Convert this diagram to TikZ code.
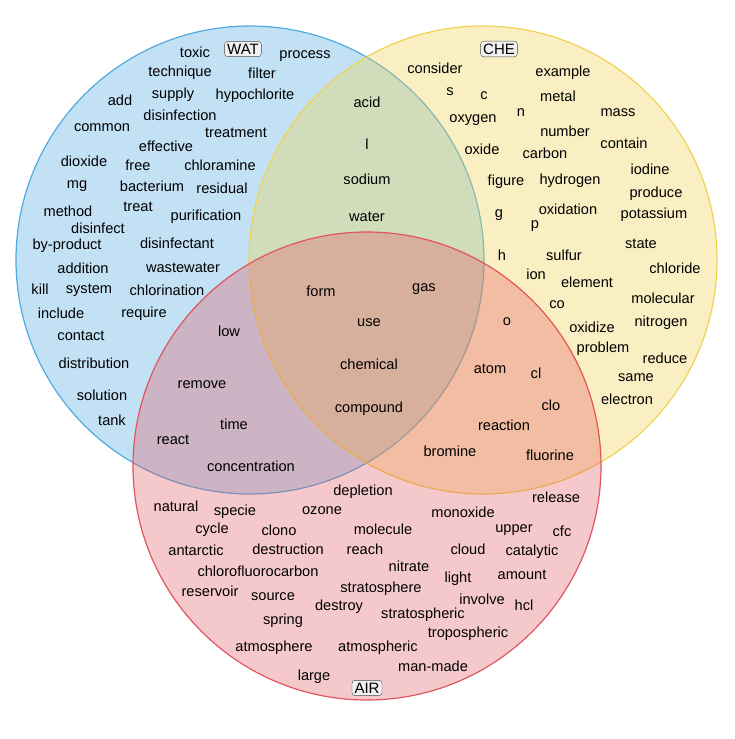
\documentclass[tikz,border=0pt]{standalone}
\usepackage{fontspec}
\setmainfont{Liberation Sans}
\usetikzlibrary{positioning}
\definecolor{watc}{RGB}{80,170,225}
\definecolor{chec}{RGB}{240,210,80}
\definecolor{airc}{RGB}{225,85,95}
\begin{document}
\begin{tikzpicture}[x=1pt,y=-1pt,
          wd/.style={font=\fontsize{14.6}{16}\selectfont,inner sep=0pt},
          tag/.style={draw=black!70,fill=black!6,rounded corners=3pt,
            font=\fontsize{15}{17}\selectfont,inner sep=2.5pt},
          set/.style={line width=1.2pt,fill opacity=0.35}
            ]
            \useasboundingbox (0,0) rectangle (735,739);
            \draw[set,draw=watc,fill=watc] (250,260) circle (234);
            \draw[set,draw=chec,fill=chec] (483,260) circle (234);
            \draw[set,draw=airc,fill=airc,fill opacity=0.32] (367,466) circle (234);
            \node[tag] (wat) at (243,49) {WAT};
            \node[tag] (che) at (499,49) {CHE};
            \node[tag] (air) at (367,688) {AIR};
            % words, by region
            \foreach \t/\x/\y [count=\i] in {
              toxic/195/52, process/305/56, technique/180/73, filter/262/73,
              add/120/100, supply/173/95, hypochlorite/255/96, disinfection/180/115,
              common/102/128, treatment/236/133, effective/166/146, dioxide/84/161,
              free/138/165, chloramine/220/165, mg/77/186, bacterium/152/186,
              residual/222/188, method/68/211, treat/138/207, disinfect/98/228,
              purification/206/217, by-product/67/246, disinfectant/177/243,
              addition/83/268, wastewater/183/268, kill/40/289, system/89/290,
              chlorination/167/290, include/61/313, require/144/314, contact/81/336,
              distribution/94/363, solution/102/395, tank/112/420,
              acid/367/102, l/367/144, sodium/367/179, water/367/217,
              consider/435/68, example/563/73, s/450/92, c/484/96, metal/558/96,
              n/521/113, oxygen/473/120, mass/618/113, number/565/131, oxide/482/149,
              carbon/545/153, contain/624/143, iodine/650/169, figure/506/182,
              hydrogen/570/181, produce/656/194, g/499/215, oxidation/568/209,
              potassium/654/215, p/535/226, state/641/244, h/502/255, sulfur/564/255,
              chloride/675/268, ion/536/274, element/587/282, co/557/305,
              molecular/663/298, o/507/322, oxidize/592/327, nitrogen/661/323,
              problem/603/349, reduce/665/358, same/636/378, electron/627/399,
              form/321/291, gas/424/289, use/369/323, chemical/369/364, compound/369/409,
              low/229/331, remove/202/385, time/234/424, react/173/440,
              concentration/251/466,
              atom/490/369, cl/536/373, clo/551/405, reaction/504/425,
              bromine/450/451, fluorine/550/455,
              depletion/363/492, release/556/497, natural/176/506, specie/235/512,
              ozone/322/511, monoxide/463/512, cfc/562/531, cycle/212/530,
              clono/279/530, molecule/383/529, upper/514/530, antarctic/196/550,
              destruction/288/549, reach/365/549, cloud/468/549, catalytic/532/552,
              nitrate/409/566, chlorofluorocarbon/258/571, amount/522/575,
              light/458/579, reservoir/210/591, stratosphere/381/589, source/273/597,
              involve/482/599, hcl/524/605, destroy/339/607, spring/283/621,
              stratospheric/423/615, tropospheric/468/634, atmosphere/274/648,
              atmospheric/378/648, man-made/433/666, large/314/677}
              \node[wd] (w\i) at (\x,\y) {\t};
            \end{tikzpicture}
\end{document}
